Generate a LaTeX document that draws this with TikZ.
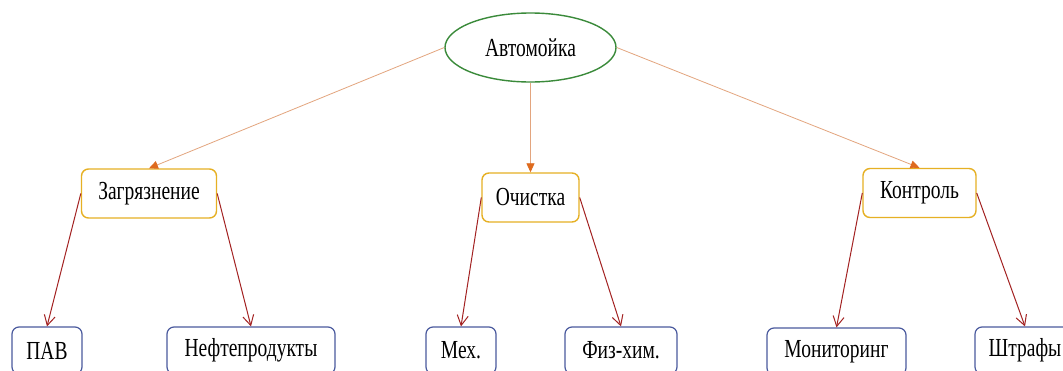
\documentclass[tikz,border=0pt]{standalone}
\usepackage{fontspec}
\setmainfont{Liberation Serif}[FakeStretch=0.75]
\usetikzlibrary{arrows.meta,shapes.geometric}
\definecolor{ellgreen}{HTML}{3A8A3A}
\definecolor{midgold}{HTML}{E6B024}
\definecolor{botblue}{HTML}{4A5A9E}
\definecolor{toparrow}{HTML}{E3A57E}
\definecolor{toptip}{HTML}{DE6A1E}
\definecolor{darkred}{HTML}{A32222}
\begin{document}
\begin{tikzpicture}[x=1pt,y=-1pt,
  every node/.style={font=\fontsize{26}{31}\selectfont, inner sep=0pt, text=black},
  topell/.style={ellipse, draw=ellgreen, line width=1.4pt, minimum width=171pt, minimum height=69pt},
  midbox/.style={rectangle, rounded corners=7pt, draw=midgold, line width=1.4pt, minimum height=49pt},
  botbox/.style={rectangle, rounded corners=7pt, draw=botblue, line width=1.2pt, minimum height=47pt},
  toplink/.style={draw=toparrow, line width=0.8pt, -{Triangle[length=9pt,width=8pt,color=toptip]}},
  sublink/.style={draw=darkred, line width=1pt, -{Straight Barb[length=10pt,width=11pt,line width=1pt]}}
]
\useasboundingbox (0,0) rectangle (1063,370);
\clip (0,0) rectangle (1063,370);
\fill[white] (0,0) rectangle (1063,370);

\node[topell] (root) at (530.5,47.5) {Автомойка};

\node[midbox, minimum width=135pt] (zag) at (149,193.5) {Загрязнение};
\node[midbox, minimum width=97pt] (och) at (530.5,197.5) {Очистка};
\node[midbox, minimum width=113pt] (kon) at (919.5,193) {Контроль};

\node[botbox, minimum width=70pt] (pav) at (47,350.5) {ПАВ};
\node[botbox, minimum width=168pt] (nef) at (251,350.5) {Нефтепродукты};
\node[botbox, minimum width=70pt] (mex) at (461,350.5) {Мех.};
\node[botbox, minimum width=112pt] (fiz) at (621,350.5) {Физ-хим.};
\node[botbox, minimum width=139pt] (mon) at (836.5,351.5) {Мониторинг};
\node[botbox, minimum width=100pt] (sht) at (1025,350.5) {Штрафы};

\draw[toplink] (root.west) -- (zag.north);
\draw[toplink] (root.south) -- (och.north);
\draw[toplink] (root.east) -- (kon.north);

\draw[sublink] (zag.west) -- (pav.north);
\draw[sublink] (zag.east) -- (nef.north);
\draw[sublink] (och.west) -- (mex.north);
\draw[sublink] (och.east) -- (fiz.north);
\draw[sublink] (kon.west) -- (mon.north);
\draw[sublink] (kon.east) -- (sht.north);
\end{tikzpicture}
\end{document}
